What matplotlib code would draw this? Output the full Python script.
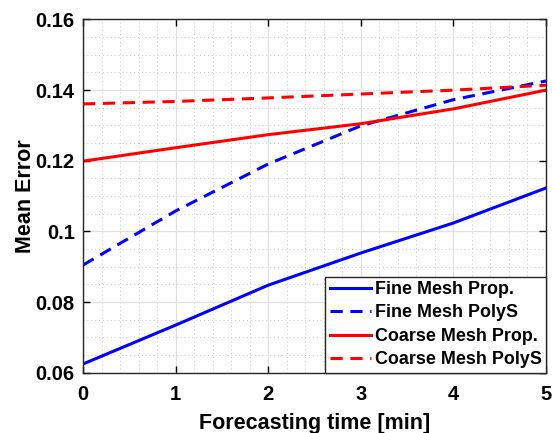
import matplotlib
matplotlib.use('Agg')
from matplotlib import pyplot as plt
from matplotlib.ticker import MultipleLocator, FuncFormatter

plt.rcParams['font.family'] = ['Liberation Sans', 'DejaVu Sans']
plt.rcParams['font.weight'] = 'bold'

t = [0, 1, 2, 3, 4, 5]
fine_prop = [0.0625, 0.0735, 0.0848, 0.0939, 0.1024, 0.1123]
fine_polys = [0.0905, 0.1058, 0.1191, 0.1299, 0.1373, 0.1426]
coarse_prop = [0.1199, 0.1237, 0.1274, 0.1305, 0.1347, 0.1400]
coarse_polys = [0.1361, 0.1368, 0.1378, 0.1389, 0.1400, 0.1414]

fig = plt.figure(figsize=(5.52, 4.33), dpi=100)
ax = fig.add_axes([0.1504, 0.139, 0.8386, 0.816])

ax.plot(t, fine_prop, color='b', linewidth=2.2, label='Fine Mesh Prop.')
ax.plot(t, fine_polys, color='b', linewidth=2.2, linestyle=(0, (4, 2.5)), label='Fine Mesh PolyS')
ax.plot(t, coarse_prop, color='r', linewidth=2.2, label='Coarse Mesh Prop.')
ax.plot(t, coarse_polys, color='r', linewidth=2.2, linestyle=(0, (4, 2.5)), label='Coarse Mesh PolyS')

ax.set_xlim(0, 5)
ax.set_ylim(0.06, 0.16)
ax.xaxis.set_major_locator(MultipleLocator(1))
ax.xaxis.set_minor_locator(MultipleLocator(0.2))
ax.yaxis.set_major_locator(MultipleLocator(0.02))
ax.yaxis.set_minor_locator(MultipleLocator(0.005))
ax.yaxis.set_major_formatter(FuncFormatter(lambda v, p: ('%.2f' % v).rstrip('0') if abs(v - 0.1) < 1e-9 else '%.2f' % v))

ax.grid(which='major', color='#e0e0e0', linewidth=0.9, linestyle='-')
ax.grid(which='minor', color='#c8c8c8', linewidth=0.7, linestyle=(0, (1, 3)))
ax.set_axisbelow(True)

ax.tick_params(which='both', direction='in', top=True, right=True, labelsize=14.5)
ax.tick_params(which='major', length=5, width=1)
ax.tick_params(axis='x', pad=9)
ax.tick_params(axis='y', pad=6)
ax.tick_params(which='minor', length=0)
for s in ax.spines.values():
    s.set_linewidth(1.0)
    s.set_color('#262626')

ax.set_xlabel('Forecasting time [min]', fontsize=15.5, fontweight='bold', labelpad=6)
ax.set_ylabel('Mean Error', fontsize=15.5, fontweight='bold', labelpad=0)

leg = ax.legend(loc='lower right', fontsize=12.9, borderaxespad=0, fancybox=False,
                edgecolor='#262626', framealpha=1, handlelength=2.3, handletextpad=0.2,
                labelspacing=0.36, borderpad=0.25)
leg.get_frame().set_linewidth(1.0)

fig.savefig('out.png', dpi=100)
